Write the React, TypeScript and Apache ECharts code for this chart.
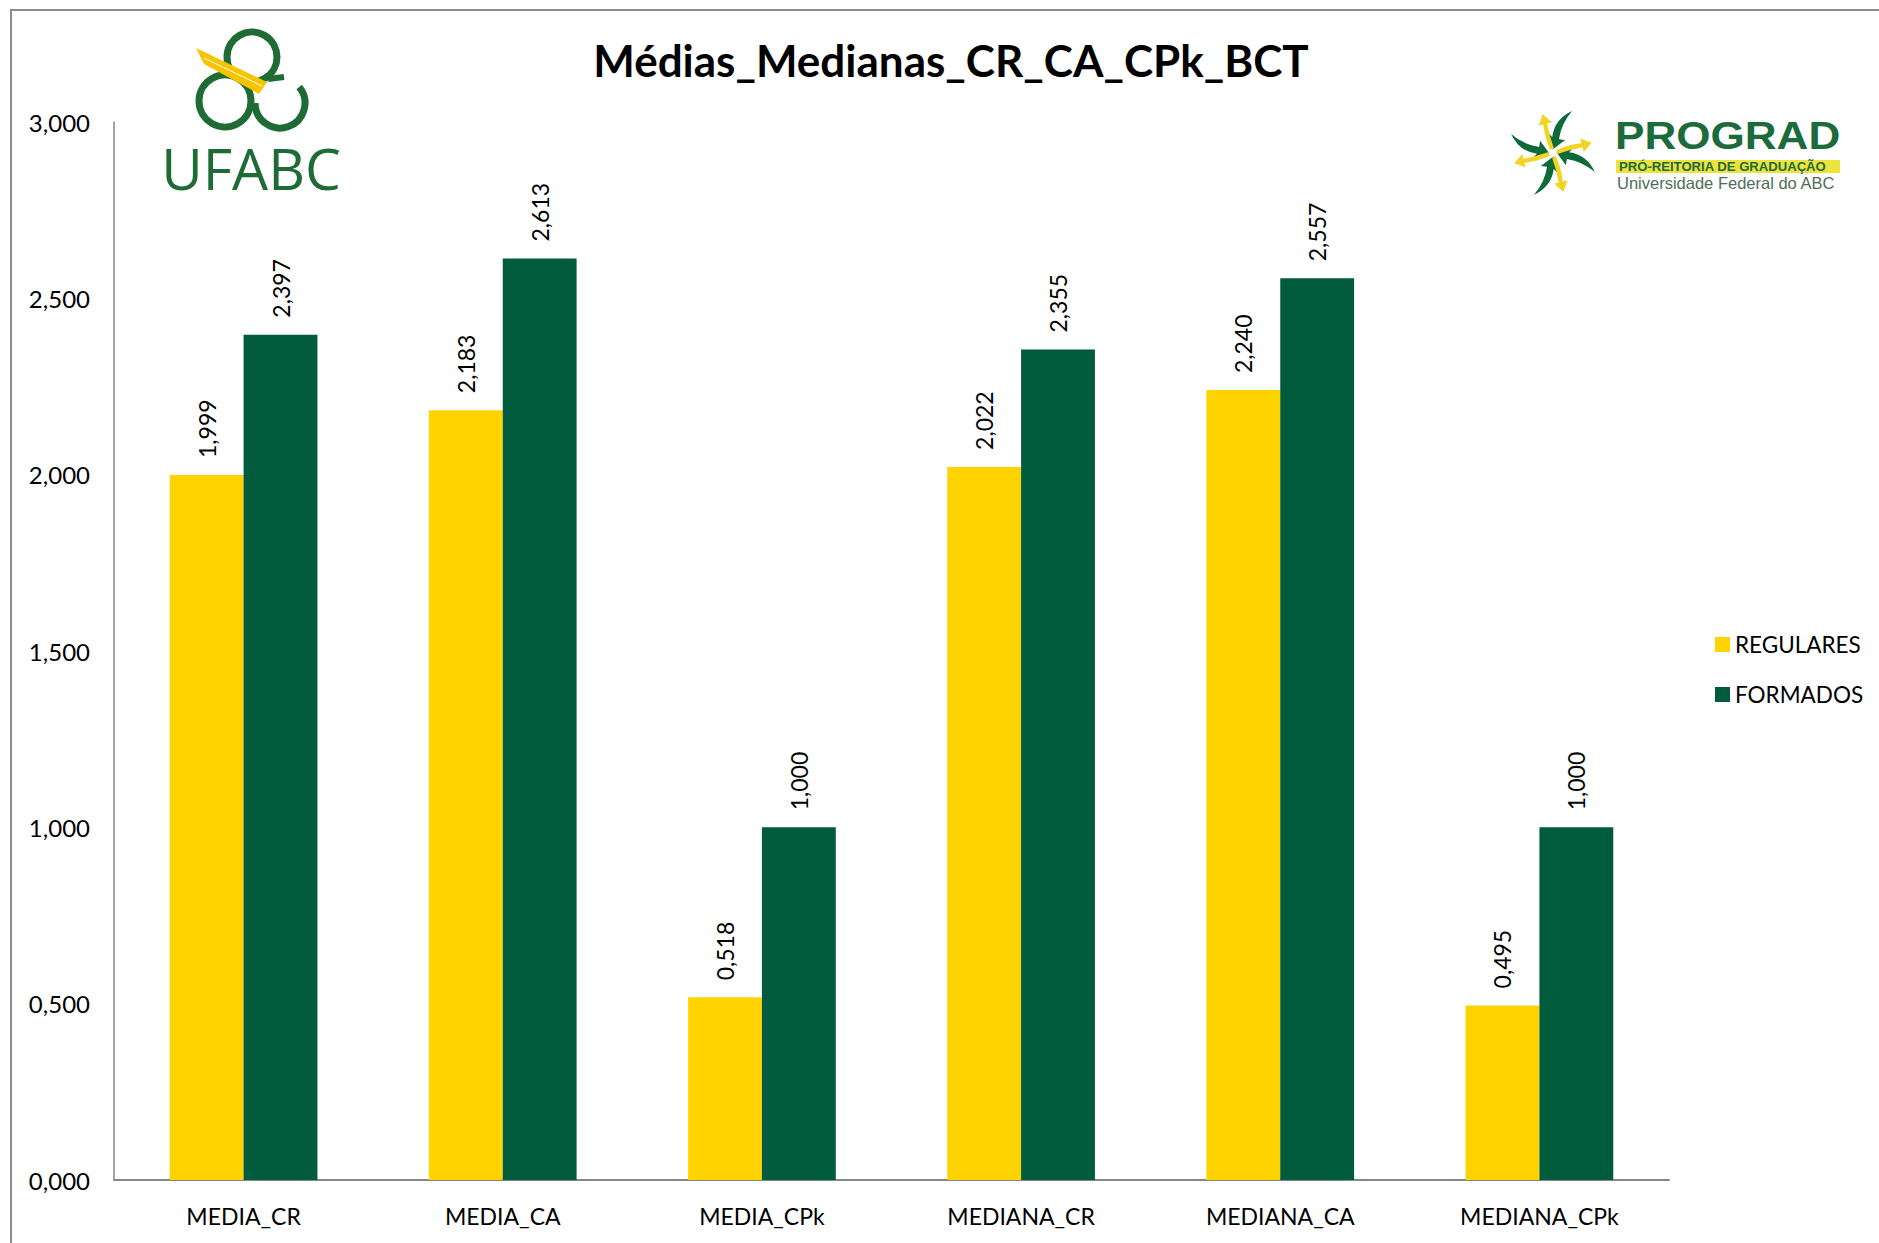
import React, { useEffect, useRef } from "react";
import * as echarts from "echarts";

const categories = ["MEDIA_CR", "MEDIA_CA", "MEDIA_CPk", "MEDIANA_CR", "MEDIANA_CA", "MEDIANA_CPk"];
const regulares = [1.999, 2.183, 0.518, 2.022, 2.24, 0.495];
const formados = [2.397, 2.613, 1.0, 2.355, 2.557, 1.0];
const seriesNames = ["REGULARES", "FORMADOS"];
const titleText = "Médias_Medianas_CR_CA_CPk_BCT";

const YELLOW = "#FFD300";
const GREEN = "#005C3D";
const LOGO_GREEN = "#1E6B35";
const FONT = "Lato";

const fmt = (v: number) => v.toFixed(3).replace(".", ",");

let shapesRegistered = false;
function registerShapes() {
  if (shapesRegistered) return;
  shapesRegistered = true;
  echarts.graphic.registerShape(
    "blade",
    echarts.graphic.extendPath(
      "M46,-2 Q31,-14 14,-8 L16,-14 L3,-2 L17,5 L15,-1 Q30,-6 46,-2 Z",
      {}
    )
  );
  echarts.graphic.registerShape(
    "yarrow",
    echarts.graphic.extendPath("M4,-2 Q18,-4 30,-2 L30,-7 L40,0 L30,7 L30,2 Q18,1 4,2 Z", {})
  );
}

export default function App() {
  const ref = useRef<HTMLDivElement>(null);
  useEffect(() => {
    document.body.style.margin = "0";
    document.body.style.overflow = "hidden";
    registerShapes();
    const chart = echarts.init(ref.current!, null, { renderer: "svg" });
    const cx = 1553;
    const cy = 153;
    const deg = Math.PI / 180;
    const bladeAngles = [27, 117, 207, 297];
    const arrowAngles = [-105, -15, 75, 165];
    const labelStyle = {
      show: true,
      position: "top",
      rotate: 90,
      align: "left",
      verticalAlign: "middle",
      distance: 17,
      fontSize: 23,
      fontFamily: FONT,
      color: "#000",
      formatter: (p: any) => fmt(p.value),
    };
    chart.setOption({
      animation: false,
      backgroundColor: "#fff",
      textStyle: { fontFamily: FONT },
      grid: { left: 114, right: 210, top: 122, bottom: 63, containLabel: false },
      legend: {
        orient: "vertical",
        left: 1710,
        top: 628,
        itemWidth: 15,
        itemHeight: 15,
        itemGap: 27,
        icon: "rect",
        data: seriesNames,
        textStyle: { fontSize: 22.5, fontFamily: FONT, color: "#000" },
      },
      xAxis: {
        type: "category",
        data: categories,
        axisLine: { show: true, lineStyle: { color: "#868686", width: 2 } },
        axisTick: { show: false },
        axisLabel: { fontSize: 23, fontFamily: FONT, color: "#000", margin: 24 },
      },
      yAxis: {
        type: "value",
        min: 0,
        max: 3,
        interval: 0.5,
        axisLine: { show: true, lineStyle: { color: "#868686", width: 1.5 } },
        axisTick: { show: false },
        splitLine: { show: false },
        axisLabel: { fontSize: 24, fontFamily: FONT, color: "#000", margin: 24, formatter: fmt },
      },
      series: [
        {
          name: seriesNames[0],
          type: "bar",
          data: regulares,
          barGap: "0%",
          barCategoryGap: "43%",
          itemStyle: { color: YELLOW },
          label: labelStyle,
        },
        {
          name: seriesNames[1],
          type: "bar",
          data: formados,
          barGap: "0%",
          barCategoryGap: "43%",
          itemStyle: { color: GREEN },
          label: labelStyle,
        },
      ],
      graphic: [
        {
          type: "rect",
          z: -10,
          shape: { x: 11, y: 10, width: 1900, height: 1300 },
          style: { fill: "none", stroke: "#8c8c8c", lineWidth: 2 },
        },
        {
          type: "text",
          x: 951,
          y: 60,
          style: {
            text: titleText,
            fontSize: 44,
            fontWeight: "bold",
            fontFamily: FONT,
            fill: "#000",
            align: "center",
            verticalAlign: "middle",
          },
        },
        // UFABC logo
        {
          type: "group",
          children: [
            { type: "circle", shape: { cx: 252, cy: 57, r: 25 }, style: { fill: "none", stroke: LOGO_GREEN, lineWidth: 7 } },
            { type: "line", shape: { x1: 268, y1: 79, x2: 284, y2: 77 }, style: { stroke: LOGO_GREEN, lineWidth: 6 } },
            { type: "circle", shape: { cx: 225, cy: 101, r: 26 }, style: { fill: "none", stroke: LOGO_GREEN, lineWidth: 7 } },
            {
              type: "arc",
              shape: { cx: 280, cy: 103, r: 25, startAngle: -40 * deg, endAngle: 180 * deg, clockwise: true },
              style: { fill: "none", stroke: LOGO_GREEN, lineWidth: 7 },
            },
            {
              type: "polygon",
              shape: { points: [[196, 48], [267, 82], [259, 94], [204, 64]] },
              style: { fill: "#F6C500" },
            },
            {
              type: "line",
              shape: { x1: 204, y1: 58, x2: 262, y2: 86 },
              style: { stroke: "#fff", lineWidth: 1 },
            },
            {
              type: "text",
              x: 251,
              y: 168,
              style: {
                text: "UFABC",
                fontSize: 57,
                fontFamily: "Open Sans",
                fill: LOGO_GREEN,
                align: "center",
                verticalAlign: "middle",
              },
            },
          ],
        },
        // PROGRAD logo
        {
          type: "group",
          children: [
            ...bladeAngles.map((a) => ({
              type: "blade",
              x: cx,
              y: cy,
              rotation: -a * deg,
              style: { fill: "#0F6A3A" },
            })),
            ...arrowAngles.map((a) => ({
              type: "yarrow",
              x: cx,
              y: cy,
              rotation: -a * deg,
              style: { fill: "#F2D422" },
            })),
            {
              type: "text",
              x: 1615,
              y: 136,
              scaleX: 1.16,
              style: {
                text: "PROGRAD",
                fontSize: 38,
                fontWeight: "bold",
                fontFamily: "Liberation Sans",
                fill: "#1C6B3A",
                align: "left",
                verticalAlign: "middle",
              },
            },
            {
              type: "rect",
              shape: { x: 1616, y: 160, width: 224, height: 13 },
              style: { fill: "#EEE33A" },
            },
            {
              type: "text",
              x: 1619,
              y: 167,
              scaleX: 1.05,
              style: {
                text: "PRÓ-REITORIA DE GRADUAÇÃO",
                fontSize: 12.5,
                fontWeight: "bold",
                fontFamily: "Liberation Sans",
                fill: "#1C6B3A",
                align: "left",
                verticalAlign: "middle",
              },
            },
            {
              type: "text",
              x: 1617,
              y: 183,
              style: {
                text: "Universidade Federal do ABC",
                fontSize: 16.5,
                fontFamily: "Liberation Sans",
                fill: "#4E6E5A",
                align: "left",
                verticalAlign: "middle",
              },
            },
          ],
        },
      ],
    });
    return () => chart.dispose();
  }, []);
  return <div ref={ref} style={{ width: 1879, height: 1243 }} />;
}
